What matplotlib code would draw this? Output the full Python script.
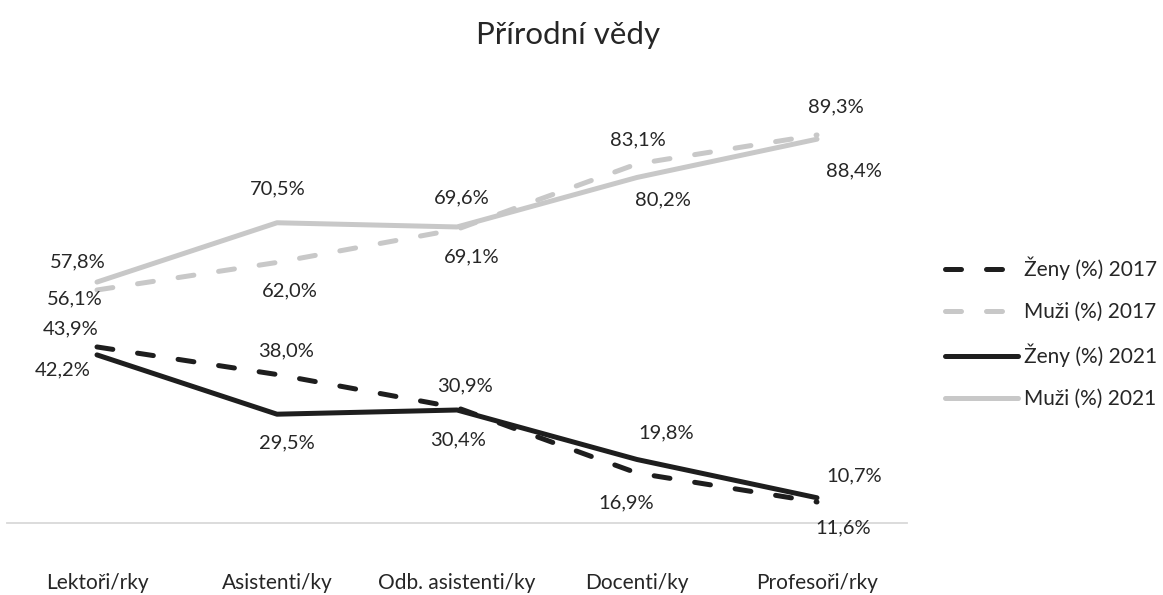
import matplotlib.pyplot as plt

categories = ['Lektoři/rky', 'Asistenti/ky', 'Odb. asistenti/ky', 'Docenti/ky', 'Profesoři/rky']
zeny_2017 = [43.9, 38.0, 30.9, 16.9, 10.7]
muzi_2017 = [56.1, 62.0, 69.1, 83.1, 89.3]
zeny_2021 = [42.2, 29.5, 30.4, 19.8, 11.6]
muzi_2021 = [57.8, 70.5, 69.6, 80.2, 88.4]
labels = ['Ženy (%) 2017', 'Muži (%) 2017', 'Ženy (%) 2021', 'Muži (%) 2021']

# hand placed data labels, offsets in pixels (dx, dy up)
label_offsets = [
    [(-26, 18), (9, 24), (8, 22), (-11, -30), (37, 26)],
    [(-22, -9), (13, -28), (15, -28), (1, 24), (19, 28)],
    [(-34, -15), (10, -29), (1, -30), (29, 27), (26, -30)],
    [(-19, 20), (1, 34), (5, 29), (26, -22), (37, -32)],
]

BLACK = '#1e1e1e'
GRAY = '#c8c8c8'
TEXT = '#262626'

plt.rcParams['font.family'] = ['Lato', 'DejaVu Sans']

fig = plt.figure(figsize=(11.63, 5.95), dpi=100)
ax = fig.add_axes([7 / 1163, 1 - 523 / 595, 900 / 1163, 438 / 595])

x = list(range(len(categories)))
series = [zeny_2017, muzi_2017, zeny_2021, muzi_2021]
colors = [BLACK, GRAY, BLACK, GRAY]
dashed = [True, True, False, False]

for vals, col, dsh, lab, offs in zip(series, colors, dashed, labels, label_offsets):
    if dsh:
        ax.plot(x, vals, color=col, lw=3.6, dashes=(3.2, 5.0),
                dash_capstyle='round', solid_joinstyle='round', label=lab)
    else:
        ax.plot(x, vals, color=col, lw=3.6, solid_capstyle='round',
                solid_joinstyle='round', label=lab)
    for xi, v, (dx, dy) in zip(x, vals, offs):
        ax.annotate(f'{v:.1f}%'.replace('.', ','), (xi, v), xytext=(dx, dy),
                    textcoords='offset pixels', ha='center', va='center',
                    fontsize=14.5, color=TEXT)

ax.set_xlim(-0.5, 4.5)
ax.set_ylim(6.2, 100)
ax.set_xticks(x)
ax.set_xticklabels(categories, fontsize=15, color=TEXT)
ax.tick_params(axis='x', length=0, pad=36)
ax.set_yticks([])
for s in ['top', 'right', 'left']:
    ax.spines[s].set_visible(False)
ax.spines['bottom'].set_color('#d9d9d9')
ax.spines['bottom'].set_linewidth(1.3)

fig.text(568 / 1163, 1 - 35 / 595, 'Přírodní vědy', ha='center', va='center',
         fontsize=22.5, color=TEXT)

leg = fig.legend(loc='center left', bbox_to_anchor=(945 / 1163, 1 - 333 / 595),
                 frameon=False, fontsize=15, handlelength=3.5, handletextpad=0.3,
                 labelspacing=1.05, borderpad=0, borderaxespad=0)
for t in leg.get_texts():
    t.set_color(TEXT)

fig.savefig('out.png', dpi=100)
